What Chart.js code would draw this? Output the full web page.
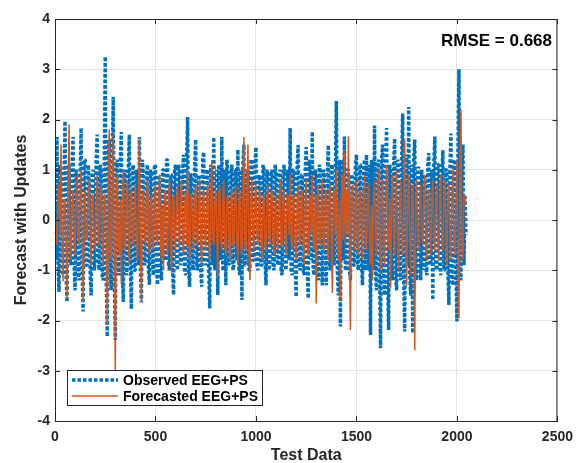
<!DOCTYPE html>
<html>
<head>
<meta charset="utf-8">
<script src="https://cdn.jsdelivr.net/npm/chart.js@4.4.0/dist/chart.umd.min.js"></script>
<style>
  html, body { margin: 0; padding: 0; background: #fff; }
  canvas { display: block; }
</style>
</head>
<body>
<canvas id="forecast-chart" width="581" height="463"></canvas>
<script>
// sample spacing along the test set (values read every 5 samples)
const sampleStep = 5;

// Observed EEG+PS, one row per 100 samples
const observed = [
    0.3,-0.8,1.65,-0.9,-1.43,1.1,0.9,-1.0,-1.1,0.9,1.97,-1.1,-1.63,1.0,1.1,-0.8,-0.9,1.1,1.65,-0.9,
    -1.4,1.0,0.8,-1.1,-1.2,0.9,1.83,-1.0,-1.82,1.2,1.2,-0.9,-0.9,1.1,0.7,-1.1,-1.5,0.9,1.0,-1.0,
    -0.8,1.2,1.7,-0.8,-1.0,1.1,0.9,-1.1,-1.2,1.0,3.25,-1.2,-2.32,1.2,1.6,-1.0,-1.4,1.3,2.45,-1.1,
    -2.39,1.1,1.2,-0.9,-1.1,1.2,1.75,-1.0,-1.63,0.9,1.0,-1.1,-0.9,1.1,1.7,-0.9,-1.77,1.0,1.1,-1.0,
    -1.0,1.0,0.8,-0.9,1.65,-1.0,-1.64,1.2,0.9,-0.9,-0.8,0.9,1.1,-1.0,-1.29,1.0,0.9,-0.8,-1.1,1.1,
    1.1,-0.9,-1.29,0.9,0.8,-1.0,-1.2,1.0,1.0,-0.8,-0.8,1.2,1.2,-0.9,-1.0,0.9,0.9,-1.0,-1.49,1.0,
    1.1,-0.8,-1.0,1.1,0.9,-0.9,-0.8,1.0,1.3,-1.0,-1.1,1.2,2.05,-1.0,-1.33,0.9,0.9,-0.9,-1.0,1.1,
    1.6,-0.9,-1.0,0.9,0.8,-1.0,-1.33,1.2,1.35,-0.8,-0.9,1.0,1.0,-1.1,-1.76,1.1,0.9,-0.9,1.65,-1.0,
    -0.9,1.0,-1.49,1.1,0.9,-0.8,1.65,-1.0,-1.0,1.0,-1.3,1.2,1.0,-0.9,-0.8,0.9,1.1,-1.0,-0.9,1.0,
    1.0,-0.8,1.4,-1.0,-1.1,1.0,-1.59,1.1,1.5,-0.9,-0.9,0.9,1.0,-1.0,-1.0,1.2,1.2,-0.8,-0.8,1.1,
    1.45,-0.9,-1.0,0.9,0.8,-0.9,-0.9,1.1,1.0,-0.8,-1.3,1.0,0.9,-1.0,-0.8,0.9,1.0,-0.9,-1.0,1.1,
    0.88,-0.8,-0.9,0.9,1.0,-1.0,-1.1,0.9,1.1,-0.9,-1.0,1.0,0.8,-0.8,1.83,-1.0,-1.1,1.0,1.0,-0.9,
    -1.53,1.1,1.49,-0.9,-1.0,0.9,0.9,-1.0,-1.1,1.0,1.45,-1.0,-1.56,1.2,1.0,-0.8,1.76,-1.0,-1.1,1.0,
    0.9,-0.9,-1.2,1.1,1.0,-0.8,-1.3,1.0,0.9,-1.0,-1.3,0.9,1.49,-0.9,-1.0,1.1,1.1,-0.8,-0.9,1.0,
    2.37,-1.0,-1.5,1.2,-2.12,1.0,1.2,-0.8,1.66,-1.0,-1.0,1.0,1.0,-1.0,-1.2,0.9,0.9,-0.9,-0.9,1.1,
    1.3,-0.9,-1.0,1.1,1.1,-0.8,-1.3,1.0,1.2,-1.0,1.3,-0.9,-1.0,1.1,-2.29,1.2,1.0,-1.0,1.88,-1.1,
    -1.4,1.1,1.2,-1.1,-2.55,1.2,1.5,-1.0,-1.5,1.0,1.83,-1.1,-2.19,1.1,1.0,-0.9,-1.2,1.1,1.62,-1.1,
    -1.4,1.2,1.1,-1.0,-1.2,1.2,2.12,-1.1,-2.22,1.1,1.3,-0.9,2.25,-1.1,-1.5,1.1,-2.25,1.2,1.6,-1.0,
    -1.2,1.0,1.06,-0.8,-1.2,1.0,-1.0,0.9,0.9,-0.9,-1.1,1.1,1.33,-0.8,-0.9,1.0,-1.59,1.1,1.66,-0.9,
    -1.0,1.1,1.1,-0.9,-1.1,0.9,1.39,-1.0,-1.0,1.0,1.0,-1.0,-1.69,1.0,1.72,-1.1,-1.3,1.1,1.2,-1.0,
    -2.02,1.2,3.0,-1.1,-1.2,1.1,1.5,-0.9,0.5,-0.3
];

// Forecasted EEG+PS, same sampling
const forecasted = [
    0.3,-0.4,-0.5,0.5,0.7,-0.3,1.5,-0.5,-1.23,0.4,0.4,-0.5,-1.56,0.6,1.9,-0.4,-0.8,0.3,0.6,-0.5,
    -0.7,0.4,0.9,-0.3,-0.5,0.5,1.0,-0.6,-1.63,0.4,0.6,-0.4,-0.4,0.5,0.8,-0.3,-0.9,0.5,0.5,-0.4,
    -0.6,0.3,0.9,-0.5,-0.4,0.4,0.7,-0.4,-0.9,0.5,0.5,-0.6,-2.09,0.7,1.8,-0.6,-0.8,0.6,1.7,-0.7,
    -3.0,0.6,0.9,-0.5,-0.7,0.4,-1.29,0.5,1.0,-0.4,-0.6,0.3,0.8,-0.5,-0.9,0.4,0.6,-0.3,-0.5,0.4,
    0.7,-0.4,-0.8,0.5,1.65,-0.6,-1.63,0.5,0.6,-0.3,-0.5,0.4,0.8,-0.5,-0.7,0.3,0.5,-0.4,-0.6,0.5,
    0.7,-0.3,-0.5,0.4,0.9,-0.5,-0.8,0.3,-1.0,0.5,0.6,-0.4,-0.7,0.5,0.8,-0.4,-1.05,0.4,0.5,-0.3,
    -0.6,0.4,0.7,-0.3,-0.5,0.5,0.8,-0.4,-0.7,0.3,0.6,-0.5,1.0,-0.4,-0.8,0.5,0.5,-0.3,-0.6,0.4,
    0.7,-0.4,-0.5,0.3,0.8,-0.5,-0.9,0.4,0.6,-0.3,-0.6,0.5,0.7,-0.4,-0.8,0.5,1.2,-0.4,-0.5,0.3,
    0.6,-0.3,-1.13,0.5,0.7,-0.4,-0.6,0.3,0.8,-0.5,-0.7,0.4,0.5,-0.3,-0.8,0.4,0.6,-0.5,-0.5,0.4,
    0.7,-0.4,-0.9,0.3,0.6,-0.5,-0.7,0.5,1.65,-0.5,-0.6,0.4,1.5,-0.6,-1.2,0.4,0.8,-0.3,-0.6,0.4,
    0.7,-0.3,-0.5,0.4,0.6,-0.4,-0.8,0.3,0.5,-0.5,-0.6,0.4,0.7,-0.3,-0.5,0.5,0.6,-0.4,-0.7,0.3,
    0.5,-0.4,-0.6,0.3,0.8,-0.5,-0.5,0.4,0.6,-0.3,-0.7,0.4,0.5,-0.3,0.9,-0.4,-0.6,0.5,0.5,-0.4,
    -0.8,0.4,0.7,-0.3,-0.5,0.5,0.6,-0.4,-0.9,0.3,0.8,-0.5,-0.7,0.4,0.5,-0.3,0.9,-0.4,-0.6,0.5,
    -1.66,0.4,0.7,-0.4,-0.5,0.3,0.8,-0.5,-0.6,0.4,0.6,-0.3,-0.8,0.5,0.7,-0.4,-1.45,0.5,0.6,-0.3,
    1.0,-0.5,-0.8,0.4,-1.6,0.5,0.9,-0.4,1.36,-0.5,0.6,-0.3,1.66,-0.6,-2.19,0.5,0.7,-0.4,-0.6,0.4,
    0.8,-0.4,-0.7,0.5,0.6,-0.3,-0.8,0.4,0.9,-0.5,-0.6,0.4,0.7,-0.4,-0.9,0.3,-1.2,0.5,0.8,-0.4,
    -0.7,0.5,1.0,-0.5,-1.0,0.4,0.8,-0.5,-0.9,0.5,1.1,-0.4,-0.6,0.4,-1.35,0.5,0.9,-0.4,-0.7,0.5,
    1.0,-0.5,-1.0,0.4,0.8,-0.5,-0.7,0.5,1.6,-0.6,-1.3,0.5,0.9,-0.4,-1.1,0.5,0.7,-0.5,-2.59,0.4,
    0.8,-0.4,-0.6,0.5,0.7,-0.3,-0.5,0.4,0.9,-0.5,-0.8,0.4,0.6,-0.3,-0.7,0.5,0.8,-0.4,-0.6,0.4,
    0.7,-0.5,-0.8,0.4,0.9,-0.5,-0.6,0.3,0.8,-0.4,-0.9,0.5,0.7,-0.4,-0.8,0.5,1.0,-0.5,-0.7,0.4,
    1.2,-0.6,-1.96,0.7,2.2,-0.6,-0.8,0.5,0.4,0.3
];

const xTicks = [0, 500, 1000, 1500, 2000, 2500];
const yTicks = [-4, -3, -2, -1, 0, 1, 2, 3, 4];
const rmseText = 'RMSE = 0.668';

const blue = '#0072BD';
const orange = '#D95319';
const axisColor = '#262626';

const toPoints = (vals) => vals.map((v, i) => ({ x: i * sampleStep, y: v }));

// box, inward ticks, axis titles, RMSE label and legend
const matlabLook = {
    id: 'matlabLook',
    afterDraw(chart) {
        const ctx = chart.ctx;
        const a = chart.chartArea;
        const xs = chart.scales.x, ys = chart.scales.y;
        ctx.save();
        ctx.strokeStyle = axisColor;
        ctx.lineWidth = 1;
        ctx.beginPath();
        ctx.rect(a.left + 0.5, a.top + 0.5, a.right - a.left - 1, a.bottom - a.top);
        ctx.stroke();

        ctx.beginPath();
        xTicks.forEach(t => {
            const px = Math.round(xs.getPixelForValue(t)) + 0.5;
            ctx.moveTo(px, a.bottom); ctx.lineTo(px, a.bottom - 5);
            ctx.moveTo(px, a.top); ctx.lineTo(px, a.top + 5);
        });
        yTicks.forEach(t => {
            const py = Math.round(ys.getPixelForValue(t)) + 0.5;
            ctx.moveTo(a.left, py); ctx.lineTo(a.left + 5, py);
            ctx.moveTo(a.right, py); ctx.lineTo(a.right - 5, py);
        });
        ctx.stroke();

        ctx.fillStyle = axisColor;
        ctx.font = 'bold 16px "Liberation Sans", Arial, sans-serif';
        ctx.textAlign = 'center';
        ctx.textBaseline = 'middle';
        ctx.fillText('Test Data', (a.left + a.right) / 2, 456);
        ctx.save();
        ctx.translate(22, (a.top + a.bottom) / 2);
        ctx.rotate(-Math.PI / 2);
        ctx.fillText('Forecast with Updates', 0, 0);
        ctx.restore();

        ctx.fillStyle = '#000';
        ctx.font = 'bold 17px "Liberation Sans", Arial, sans-serif';
        ctx.textAlign = 'right';
        ctx.fillText(rmseText, 552, 41);

        // legend
        const lx = 67, ly = 370, lw = 195, lh = 35;
        ctx.fillStyle = '#fff';
        ctx.fillRect(lx, ly, lw, lh);
        ctx.strokeStyle = axisColor;
        ctx.strokeRect(lx + 0.5, ly + 0.5, lw, lh);
        chart.data.datasets.forEach((d, i) => {
            const yy = ly + 10 + i * 16;
            ctx.save();
            ctx.strokeStyle = d.borderColor;
            ctx.lineWidth = d.borderWidth;
            ctx.setLineDash(d.borderDash || []);
            ctx.beginPath();
            ctx.moveTo(lx + 5, yy);
            ctx.lineTo(lx + 51, yy);
            ctx.stroke();
            ctx.restore();
            ctx.fillStyle = '#000';
            ctx.font = 'bold 14px "Liberation Sans", Arial, sans-serif';
            ctx.textAlign = 'left';
            ctx.fillText(d.label, lx + 56, yy + 1);
        });
        ctx.restore();
    }
};

const tickFont = { family: '"Liberation Sans", Arial, sans-serif', size: 14, weight: 'bold' };

const chart = new Chart(document.getElementById('forecast-chart'), {
    type: 'line',
    data: {
        datasets: [{
            label: 'Observed EEG+PS',
            data: toPoints(observed),
            borderColor: blue,
            borderWidth: 3.5,
            borderDash: [3.5, 2],
            borderJoinStyle: 'bevel',
            pointRadius: 0,
            order: 1
        }, {
            label: 'Forecasted EEG+PS',
            data: toPoints(forecasted),
            borderColor: orange,
            borderWidth: 1.5,
            borderJoinStyle: 'bevel',
            pointRadius: 0,
            order: 0
        }]
    },
    options: {
        responsive: false,
        animation: false,
        layout: { padding: { top: 19, right: 18, left: 0, bottom: 0 } },
        plugins: { legend: { display: false }, tooltip: { enabled: false } },
        scales: {
            x: {
                type: 'linear',
                min: 0, max: 2500,
                afterFit: (s) => { s.height = 42; },
                afterBuildTicks: (s) => { s.ticks = xTicks.map(v => ({ value: v })); },
                grid: { color: '#e3e3e3', drawTicks: false },
                border: { color: axisColor },
                ticks: { padding: 8, color: axisColor, font: tickFont, callback: (v) => String(v) }
            },
            y: {
                min: -4, max: 4,
                afterFit: (s) => { s.width = 55; },
                afterBuildTicks: (s) => { s.ticks = yTicks.map(v => ({ value: v })); },
                grid: { color: '#e3e3e3', drawTicks: false },
                border: { color: axisColor },
                ticks: { padding: 5, color: axisColor, font: tickFont, callback: (v) => String(v) }
            }
        }
    },
    plugins: [matlabLook]
});
</script>
</body>
</html>
